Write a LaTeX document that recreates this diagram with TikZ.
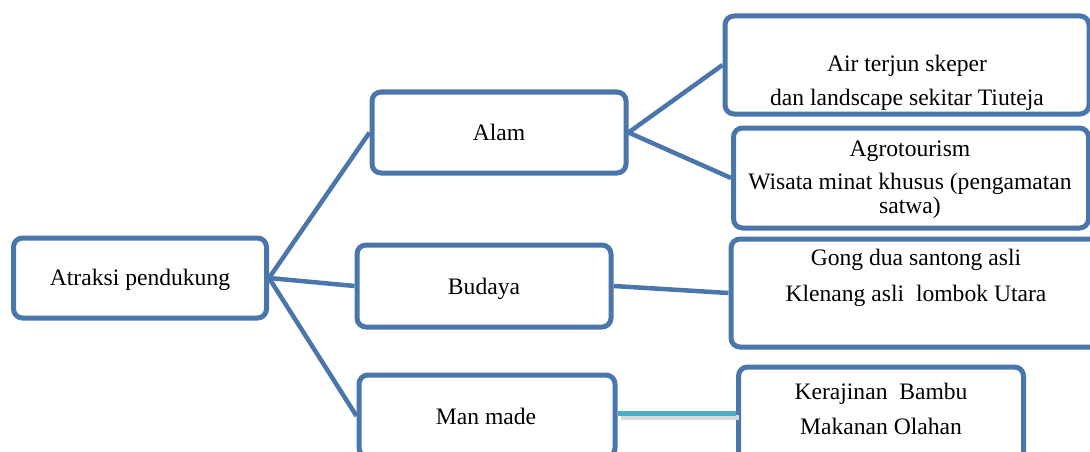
\documentclass[tikz,border=0pt]{standalone}
\usepackage{fontspec}
\setmainfont{Liberation Serif}
\definecolor{boxblue}{RGB}{74,118,172}
\definecolor{linkteal}{RGB}{75,172,198}
\tikzset{
  box/.style={draw=boxblue, line width=5pt, rounded corners=9pt, fill=white, inner sep=0pt},
  txt/.style={font=\rmfamily\fontsize{23.6}{24}\selectfont, align=center, inner sep=0pt, anchor=base},
  link/.style={draw=boxblue, line width=4.5pt},
}
\begin{document}
\begin{tikzpicture}[x=1pt,y=1pt]
  \useasboundingbox (0,0) rectangle (1090,-452);
  \clip (0,0) rectangle (1090,-452);
  % boxes
  \node[box, minimum width=253pt, minimum height=80pt] (atr) at (140,-278) {};
  \node[box, minimum width=254pt, minimum height=81pt] (alam) at (499,-132.5) {};
  \node[box, minimum width=254pt, minimum height=82pt] (budaya) at (484,-286) {};
  \node[box, minimum width=256pt, minimum height=82pt] (manmade) at (487,-416) {};
  \node[box, minimum width=364pt, minimum height=98pt] (air) at (907,-65) {};
  \node[box, minimum width=355pt, minimum height=100pt] (agro) at (911,-178) {};
  \node[box, minimum width=372pt, minimum height=108pt] (gong) at (917,-293) {};
  \node[box, minimum width=285pt, minimum height=98pt] (krj) at (881,-416) {};
  % texts (base = last line)
  \node[txt] (atrT) at (140,-285) {Atraksi pendukung};
  \node[txt] (alamT) at (499,-140) {Alam};
  \node[txt] (budayaT) at (484,-294) {Budaya};
  \node[txt] (manmadeT) at (486,-424) {Man made};
  \node[txt] (airT) at (907,-106) {Air terjun skeper\\[10pt]dan landscape sekitar Tiuteja};
  \node[txt] (agroT) at (910,-213) {Agrotourism\\[9pt]Wisata minat khusus (pengamatan\\satwa)};
  \node[txt] (gongT) at (916,-301) {Gong dua santong asli\\[12pt]Klenang asli~ lombok Utara};
  \node[txt] (krjT) at (881,-434) {Kerajinan~ Bambu\\[11pt]Makanan Olahan};
  % connectors
  \draw[link] (atr.east) -- (alam.west);
  \draw[link] (atr.east) -- (budaya.west);
  \draw[link] (atr.east) -- (manmade.west);
  \draw[link] (alam.east) -- (air.west);
  \draw[link] (alam.east) -- (agro.west);
  \draw[link] (budaya.east) -- (gong.west);
  \draw[black!15, line width=5pt] ([xshift=3pt,yshift=-1pt]manmade.east) -- ([xshift=3pt,yshift=-1pt]krj.west);
  \draw[linkteal, line width=5pt] ([yshift=3pt]manmade.east) -- ([yshift=3pt]krj.west);
\end{tikzpicture}
\end{document}
